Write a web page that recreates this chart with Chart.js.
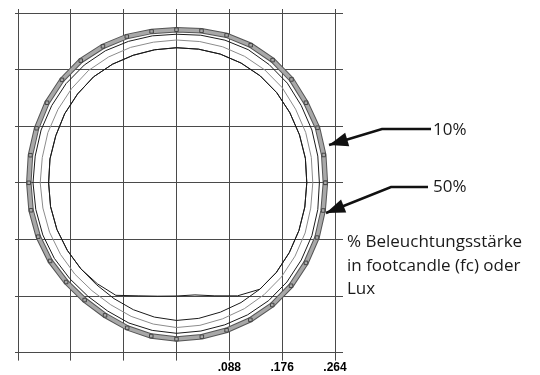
<!DOCTYPE html>
<html><head><meta charset="utf-8">
<script src="https://cdn.jsdelivr.net/npm/chart.js@4/dist/chart.umd.min.js"></script>
<style>html,body{margin:0;padding:0;background:#fff;}canvas{display:block;}</style>
</head><body>
<canvas id="c" width="540" height="375"></canvas>
<script>
// axis ticks (same unit on both axes)
const xTicks = [-0.264, -0.176, -0.088, 0, 0.088, 0.176, 0.264];
const yTicks = [-0.264, -0.176, -0.088, 0, 0.088, 0.176, 0.264];
const xTickLabels = ['', '', '', '', '.088', '.176', '.264'];

// contour directions (degrees, counter-clockwise from the right)
const angles = [0,10,20,30,40,50,60,70,80,90,100,110,120,130,140,150,160,170,
                180,190,200,210,220,230,240,250,260,270,280,290,300,310,320,330,340,350];

// radius of each isolux contour at each direction (axis units)
const rOuter10 = [.248,.249,.250,.249,.250,.249,.247,.244,.240,.238,.239,.242,.245,.248,.249,.249,.248,.247,
                  .246,.246,.245,.243,.240,.238,.238,.240,.242,.243,.243,.244,.246,.248,.249,.249,.249,.248];
const rRing2 = [.238,.239,.240,.240,.241,.240,.239,.236,.233,.231,.232,.234,.237,.239,.240,.240,.240,.239,
                .239,.238,.237,.235,.232,.230,.230,.232,.233,.234,.234,.235,.237,.239,.240,.240,.240,.239];
const rRing3 = [.227,.228,.229,.229,.230,.229,.227,.225,.223,.222,.222,.224,.226,.228,.228,.228,.228,.227,
                .227,.226,.225,.223,.221,.219,.219,.221,.223,.225,.225,.225,.226,.227,.228,.228,.228,.227];
const rRing4 = [.217,.218,.218,.218,.218,.217,.215,.213,.211,.210,.210,.211,.213,.215,.215,.215,.214,.214,
                .213,.213,.212,.210,.208,.207,.208,.210,.212,.214,.214,.214,.215,.216,.217,.217,.217,.217];
const rInner50 = [.217,.218,.218,.218,.218,.217,.215,.213,.211,.210,.210,.211,.213,.215,.215,.215,.214,.214,
                  .213,.213,.212,.210,.208,.205,.202,.187,.179,.176,.177,.187,.203,.216,.217,.217,.217,.217];

function ring(radii) {
  const pts = angles.map((a, i) => ({
    x: radii[i] * Math.cos(a * Math.PI / 180),
    y: radii[i] * Math.sin(a * Math.PI / 180)
  }));
  pts.push(pts[0]);
  return pts;
}

const GRID = '#4a4a4a';

const annotations = {
  id: 'annotations',
  afterDraw(chart) {
    const ctx = chart.ctx;
    ctx.save();
    ctx.fillStyle = '#1a1a1a';
    ctx.strokeStyle = '#111';
    ctx.font = '17px "Open Sans", "Noto Sans", sans-serif';
    ctx.textBaseline = 'alphabetic';
    ctx.textAlign = 'left';
    ctx.fillText('10%', 433, 135);
    ctx.fillText('50%', 433, 192);
    ctx.fillText('% Beleuchtungsstärke', 347, 247);
    ctx.fillText('in footcandle (fc) oder', 347, 271);
    ctx.fillText('Lux', 347, 294);

    function arrow(pts) {
      ctx.lineWidth = 2.5;
      ctx.beginPath();
      ctx.moveTo(pts[0][0], pts[0][1]);
      for (let i = 1; i < pts.length; i++) ctx.lineTo(pts[i][0], pts[i][1]);
      ctx.stroke();
      const [bx, by] = pts[pts.length - 2];
      const [tx, ty] = pts[pts.length - 1];
      const ang = Math.atan2(ty - by, tx - bx);
      const L = 19, W = 7;
      ctx.beginPath();
      ctx.moveTo(tx, ty);
      ctx.lineTo(tx - L * Math.cos(ang) + W * Math.sin(ang), ty - L * Math.sin(ang) - W * Math.cos(ang));
      ctx.lineTo(tx - L * Math.cos(ang) - W * Math.sin(ang), ty - L * Math.sin(ang) + W * Math.cos(ang));
      ctx.closePath();
      ctx.fillStyle = '#111';
      ctx.fill();
    }
    arrow([[431, 129], [382, 129], [329, 145]]);
    arrow([[428, 187], [391, 187], [326, 213]]);
    ctx.restore();
  }
};

const setTicks = (list) => (scale) => { scale.ticks = list.map(v => ({ value: v })); };

new Chart(document.getElementById('c'), {
  type: 'scatter',
  data: {
    datasets: [
      { label: 'inner', data: ring(rInner50), showLine: true, borderColor: '#1a1a1a', borderWidth: 1, pointRadius: 0, order: 0 },
      { label: 'ring4', data: ring(rRing4), showLine: true, borderColor: '#1a1a1a', borderWidth: 1, pointRadius: 0, order: 0 },
      { label: 'ring3', data: ring(rRing3), showLine: true, borderColor: '#8c8c8c', borderWidth: 1, pointRadius: 0, order: 0 },
      { label: 'ring2', data: ring(rRing2), showLine: true, borderColor: '#1a1a1a', borderWidth: 1, pointRadius: 0, order: 0 },
      { label: '10% band', data: ring(rOuter10), showLine: true, borderColor: '#a8a8a8', borderWidth: 3.5,
        pointStyle: 'rect', pointRadius: 2.5, pointBackgroundColor: '#a8a8a8', pointBorderColor: '#444', pointBorderWidth: 1, order: 1 },
      { label: '10% band edge', data: ring(rOuter10), showLine: true, borderColor: '#555', borderWidth: 5.5, pointRadius: 0, order: 2 }
    ]
  },
  options: {
    responsive: false,
    animation: false,
    devicePixelRatio: 1,
    layout: { padding: { left: 15, right: 197, top: 9, bottom: 0 } },
    plugins: { legend: { display: false }, tooltip: { enabled: false } },
    elements: { line: { tension: 0 } },
    scales: {
      x: {
        type: 'linear', position: 'bottom', min: -0.264, max: 0.264,
        afterBuildTicks: setTicks(xTicks),
        grid: { color: GRID, tickColor: GRID, tickLength: 8, lineWidth: 1 },
        border: { color: GRID },
        ticks: { color: '#000', padding: 0, maxRotation: 0, autoSkip: false,
                 font: { family: '"Liberation Sans", Arial, sans-serif', size: 12, weight: 'bold' },
                 callback: (v, i) => xTickLabels[i] }
      },
      x2: {
        type: 'linear', position: 'top', min: -0.264, max: 0.264,
        afterBuildTicks: setTicks(xTicks),
        grid: { drawOnChartArea: false, color: GRID, tickLength: 4 },
        border: { color: GRID },
        ticks: { display: false }
      },
      y: {
        type: 'linear', position: 'left', min: -0.264, max: 0.264,
        afterBuildTicks: setTicks(yTicks),
        grid: { color: GRID, tickColor: GRID, tickLength: 3 },
        border: { color: GRID },
        ticks: { display: false }
      },
      y2: {
        type: 'linear', position: 'right', min: -0.264, max: 0.264,
        afterBuildTicks: setTicks(yTicks),
        grid: { drawOnChartArea: false, color: GRID, tickLength: 8 },
        border: { color: GRID },
        ticks: { display: false }
      }
    }
  },
  plugins: [annotations]
});
</script>
</body></html>
